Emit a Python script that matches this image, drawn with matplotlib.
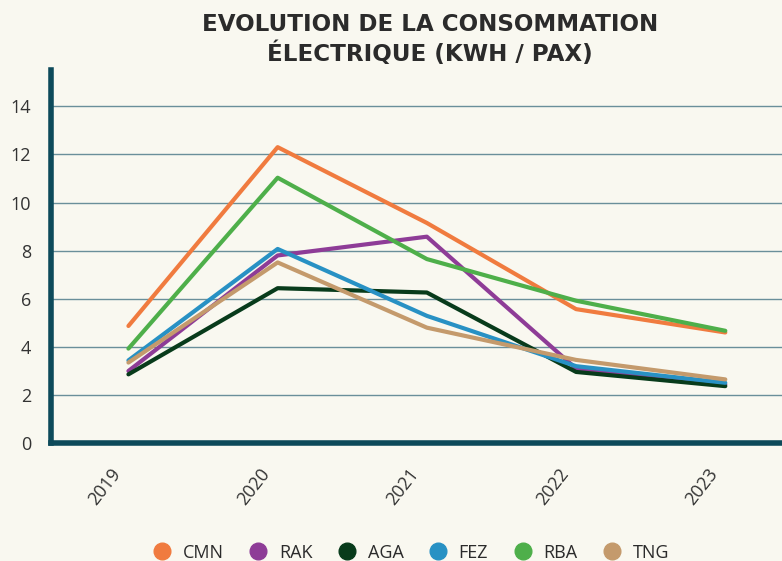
import numpy as np
import matplotlib.pyplot as plt
from matplotlib.lines import Line2D
from matplotlib.transforms import ScaledTranslation

plt.rcParams['font.family'] = ['Open Sans', 'DejaVu Sans']

years = ['2019', '2020', '2021', '2022', '2023']
cmn = [4.87, 12.3, 9.15, 5.57, 4.6]
rak = [3.0, 7.8, 8.58, 3.1, 2.44]
aga = [2.86, 6.44, 6.26, 2.96, 2.37]
fez = [3.44, 8.07, 5.29, 3.2, 2.51]
rba = [3.93, 11.03, 7.65, 5.92, 4.67]
tng = [3.35, 7.51, 4.8, 3.46, 2.65]

names = ['CMN', 'RAK', 'AGA', 'FEZ', 'RBA', 'TNG']
colors = ['#F07B3F', '#8E3C97', '#083B1B', '#2891C4', '#4EAF4A', '#C49A6C']
series = [cmn, rak, aga, fez, rba, tng]

bg = '#F9F8F0'
spine_col = '#0D4A5A'

fig = plt.figure(figsize=(7.82, 5.61), dpi=100, facecolor=bg)
ax = fig.add_axes([0.065, 0.21, 0.935, 0.665])
ax.set_facecolor(bg)

x = np.arange(len(years))
for vals, c in zip(series, colors):
    ax.plot(x, vals, color=c, lw=3.0, solid_capstyle='round', zorder=3)

ax.set_ylim(0, 15.5)
ax.set_xlim(-0.52, 4.38)
ax.set_yticks(np.arange(0, 15, 2))
ax.set_xticks(x)
ax.set_xticklabels(years, rotation=52, ha='right', rotation_mode='anchor')
ax.tick_params(axis='both', length=0, labelsize=13, labelcolor='#333333')
ax.tick_params(axis='x', pad=16)
ax.tick_params(axis='y', pad=14)
# nudge the rotated year labels to the left of their ticks
shift = ScaledTranslation(-13 / 72, 0, fig.dpi_scale_trans)
for lab in ax.get_xticklabels():
    lab.set_transform(lab.get_transform() + shift)
ax.grid(axis='y', color='#6A8F9A', lw=1.0, zorder=1)
ax.set_axisbelow(True)

for s in ['top', 'right']:
    ax.spines[s].set_visible(False)
for s in ['left', 'bottom']:
    ax.spines[s].set_color(spine_col)
    ax.spines[s].set_linewidth(4)

fig.suptitle('EVOLUTION DE LA CONSOMMATION\nÉLECTRIQUE (KWH / PAX)',
             x=0.55, y=0.977, fontsize=16.6, fontweight='bold', color='#2B2B2B',
             linespacing=1.28, family='DejaVu Sans')

handles = [Line2D([0], [0], marker='o', color='none', markerfacecolor=c,
                  markeredgecolor=c, markersize=12) for c in colors]
fig.legend(handles, names, loc='lower center', bbox_to_anchor=(0.52, -0.03),
           ncol=6, frameon=False, fontsize=13, handletextpad=0.15,
           columnspacing=0.9, labelcolor='#2B2B2B')

fig.savefig('out.png', dpi=100, facecolor=bg)
